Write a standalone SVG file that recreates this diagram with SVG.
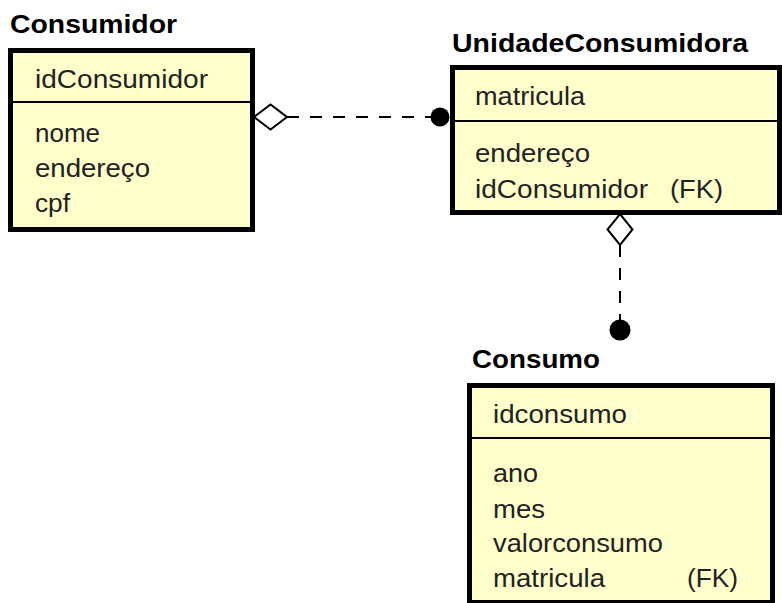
<svg xmlns="http://www.w3.org/2000/svg" width="782" height="603" viewBox="0 0 782 603">
<style>
.box{fill:#ffffcc;stroke:#000;stroke-width:5}
.div{stroke:#000;stroke-width:2}
.title{font-family:"Liberation Sans",Arial,sans-serif;font-weight:bold;font-size:26px;fill:#000}
.attr{font-family:"Liberation Sans",Arial,sans-serif;font-size:25px;fill:#222}
.dash{stroke:#000;stroke-width:2;stroke-dasharray:12 11;fill:none}
.dia{fill:#fff;stroke:#000;stroke-width:2}
</style>
<rect width="782" height="603" fill="#fff"/>
<g id="connectors">
  <line class="dash" x1="287" y1="117" x2="432" y2="117"/>
  <polygon class="dia" points="254,117 270.5,104.5 287,117 270.5,129.5"/>
  <circle cx="440" cy="117" r="9.5" fill="#000"/>
  <line class="dash" x1="620" y1="245" x2="620" y2="322"/>
  <polygon class="dia" points="620,214 632.5,229.5 620,245 607.5,229.5"/>
  <circle cx="620" cy="330" r="10.5" fill="#000"/>
</g>
<g id="Consumidor">
  <text class="title" x="10" y="33" textLength="167" lengthAdjust="spacingAndGlyphs">Consumidor</text>
  <rect class="box" x="10.5" y="50.5" width="242" height="179"/>
  <line class="div" x1="10" y1="102" x2="253" y2="102"/>
  <text class="attr" x="35" y="88" textLength="173" lengthAdjust="spacingAndGlyphs">idConsumidor</text>
  <text class="attr" x="35" y="142" textLength="65" lengthAdjust="spacingAndGlyphs">nome</text>
  <text class="attr" x="35" y="177" textLength="115" lengthAdjust="spacingAndGlyphs">endereço</text>
  <text class="attr" x="35" y="212" textLength="35" lengthAdjust="spacingAndGlyphs">cpf</text>
</g>
<g id="UnidadeConsumidora">
  <text class="title" x="452" y="52" textLength="296" lengthAdjust="spacingAndGlyphs">UnidadeConsumidora</text>
  <rect class="box" x="452.5" y="67.5" width="327" height="145"/>
  <line class="div" x1="452" y1="121" x2="780" y2="121"/>
  <text class="attr" x="475" y="105" textLength="110" lengthAdjust="spacingAndGlyphs">matricula</text>
  <text class="attr" x="475" y="162" textLength="115" lengthAdjust="spacingAndGlyphs">endereço</text>
  <text class="attr" x="475" y="198" textLength="173" lengthAdjust="spacingAndGlyphs">idConsumidor</text>
  <text class="attr" x="670" y="198" textLength="53" lengthAdjust="spacingAndGlyphs">(FK)</text>
</g>
<g id="Consumo">
  <text class="title" x="472" y="368" textLength="128" lengthAdjust="spacingAndGlyphs">Consumo</text>
  <rect class="box" x="469.5" y="385.5" width="303" height="217"/>
  <line class="div" x1="470" y1="438" x2="773" y2="438"/>
  <text class="attr" x="493" y="423" textLength="134" lengthAdjust="spacingAndGlyphs">idconsumo</text>
  <text class="attr" x="493" y="482" textLength="45" lengthAdjust="spacingAndGlyphs">ano</text>
  <text class="attr" x="493" y="518" textLength="52" lengthAdjust="spacingAndGlyphs">mes</text>
  <text class="attr" x="493" y="552" textLength="170" lengthAdjust="spacingAndGlyphs">valorconsumo</text>
  <text class="attr" x="493" y="587" textLength="112" lengthAdjust="spacingAndGlyphs">matricula</text>
  <text class="attr" x="687" y="587" textLength="51" lengthAdjust="spacingAndGlyphs">(FK)</text>
</g>
</svg>
